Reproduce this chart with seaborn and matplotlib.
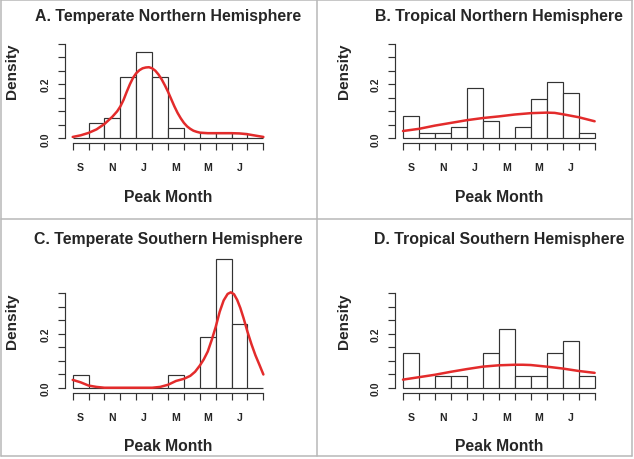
import numpy as np
import seaborn as sns
import matplotlib.pyplot as plt
from matplotlib.lines import Line2D

# histogram densities per month bin (Sep .. Aug)
bin_edges = list(range(13))
month_labels = ['S', 'N', 'J', 'M', 'M', 'J']
dens_A = [0, 0.0566, 0.0755, 0.2264, 0.3208, 0.2264, 0.0377, 0, 0.0189, 0.0189, 0.0189, 0]
dens_B = [0.0833, 0.0208, 0.0208, 0.0417, 0.1875, 0.0625, 0, 0.0417, 0.1458, 0.2083, 0.1667, 0.0208]
dens_C = [0.0476, 0, 0, 0, 0, 0, 0.0476, 0, 0.1905, 0.4762, 0.2381, 0]
dens_D = [0.1304, 0, 0.0435, 0.0435, 0, 0.1304, 0.2174, 0.0435, 0.0435, 0.1304, 0.1739, 0.0435]

# red density curves
curve_A_x = [0, 0.5, 1, 1.5, 2, 2.5, 2.8, 3.0, 3.2, 3.4, 3.6, 3.8, 4.0, 4.2, 4.4, 4.6, 4.8,
             5.0, 5.2, 5.4, 5.6, 5.8, 6.0, 6.2, 6.4, 6.6, 6.8, 7.0, 7.2, 7.4, 7.6, 7.8,
             8.0, 8.5, 9, 9.5, 10, 10.5, 11, 11.5, 12]
curve_A_y = [0.005, 0.011, 0.02, 0.033, 0.053, 0.08, 0.1, 0.118, 0.142, 0.172, 0.2, 0.224,
             0.241, 0.252, 0.259, 0.262, 0.263, 0.259, 0.25, 0.236, 0.218, 0.196, 0.172,
             0.145, 0.118, 0.094, 0.074, 0.057, 0.044, 0.035, 0.028, 0.024, 0.021, 0.019,
             0.019, 0.019, 0.019, 0.018, 0.015, 0.01, 0.005]
curve_B_x = [0, 1, 2, 3, 4, 5, 6, 7, 8, 9, 9.5, 10, 11, 12]
curve_B_y = [0.027, 0.035, 0.047, 0.057, 0.067, 0.075, 0.081, 0.088, 0.093, 0.095, 0.094, 0.089, 0.078, 0.063]
curve_C_x = [0, 0.5, 1, 1.5, 2, 3, 4, 5, 5.5, 6, 6.5, 7, 7.4, 7.7, 8.0, 8.25, 8.5, 8.75,
             9.0, 9.25, 9.5, 9.75, 9.95, 10.15, 10.35, 10.55, 10.75, 11.0, 11.25, 11.5,
             11.75, 12]
curve_C_y = [0.03, 0.021, 0.009, 0.004, 0.001, 0.001, 0.001, 0.001, 0.004, 0.012, 0.026,
             0.034, 0.045, 0.06, 0.083, 0.106, 0.135, 0.178, 0.226, 0.282, 0.324, 0.348,
             0.354, 0.347, 0.326, 0.296, 0.259, 0.208, 0.162, 0.121, 0.086, 0.05]
curve_D_x = [0, 1, 2, 3, 4, 5, 6, 7, 7.5, 8, 9, 10, 11, 12]
curve_D_y = [0.031, 0.04, 0.049, 0.06, 0.07, 0.079, 0.084, 0.086, 0.086, 0.085, 0.079, 0.072, 0.063, 0.056]

titles = ['A. Temperate Northern Hemisphere', 'B. Tropical Northern Hemisphere',
          'C. Temperate Southern Hemisphere', 'D. Tropical Southern Hemisphere']

sns.set_style('ticks')
plt.rcParams['font.family'] = ['Liberation Sans', 'DejaVu Sans']

W, H = 634, 460
fig = plt.figure(figsize=(W / 100, H / 100), dpi=100)

def fx(px):
    return px / W

def fy(py):
    return 1 - py / H

RED = '#e32b2b'
DARK = '#333333'
SY = 270.3

# layout per panel: x of data 0, px per month, y of density 0, title baseline, ylabel x
panels = [
    (dens_A, curve_A_x, curve_A_y, 72.7, 15.89, 139.3, 20.7, 12.5),
    (dens_B, curve_B_x, curve_B_y, 403.0, 15.97, 139.3, 20.7, 344.0),
    (dens_C, curve_C_x, curve_C_y, 72.7, 15.89, 389.0, 244.5, 12.5),
    (dens_D, curve_D_x, curve_D_y, 403.0, 15.97, 389.0, 244.5, 344.0),
]

centers = [e + 0.5 for e in bin_edges[:-1]]

for i, (dens, cx, cy, x0, sx, y0, tb, ylx) in enumerate(panels):
    left = x0 - 0.48 * sx
    bottom = y0 + 0.0185 * SY
    ax = fig.add_axes([fx(left), fy(bottom), 12.96 * sx / W, 0.5185 * SY / H])

    sns.histplot(x=centers, weights=dens, bins=bin_edges, stat='count',
                 color='white', edgecolor=DARK, linewidth=0.85, alpha=1, ax=ax)
    sns.lineplot(x=cx, y=cy, color=RED, linewidth=1.8, ax=ax)

    ax.set_xlim(-0.48, 12.48)
    ax.set_ylim(-0.0185, 0.5)
    ax.set_xlabel('')
    ax.set_ylabel('')
    ax.set_facecolor('none')

    for s in ['top', 'right']:
        ax.spines[s].set_visible(False)
    ax.spines['left'].set_bounds(0, 0.35)
    ax.spines['bottom'].set_bounds(0, 12)
    for s in ['left', 'bottom']:
        ax.spines[s].set_linewidth(0.85)
        ax.spines[s].set_color(DARK)

    ax.set_xticks(bin_edges)
    ax.set_xticklabels([])
    ax.set_xticks(centers[::2], minor=True)
    ax.set_xticklabels(month_labels, minor=True)
    ax.tick_params(axis='x', which='major', length=5, width=0.85, color=DARK)
    ax.tick_params(axis='x', which='minor', length=0, pad=13.5, labelsize=7.6)

    yt = [0, 0.05, 0.1, 0.15, 0.2, 0.25, 0.3, 0.35]
    ax.set_yticks(yt)
    ax.set_yticklabels(['0.0', '', '', '', '0.2', '', '', ''])
    ax.tick_params(axis='y', length=5, width=0.85, color=DARK, pad=5.5,
                   labelsize=7.5, labelrotation=90)
    plt.setp(ax.get_yticklabels(), va='center', fontweight='bold')
    plt.setp(ax.get_xticklabels(minor=True), fontweight='bold')

    cxm = x0 + 6 * sx
    fig.text(fx(cxm), fy(tb), titles[i], ha='center', va='baseline',
             fontsize=11.4, fontweight='bold')
    fig.text(fx(ylx), fy(y0 - 67.8), 'Density', rotation=90, ha='center',
             va='center', fontsize=11.1, fontweight='bold')
    fig.text(fx(cxm), fy(y0 + 62.3), 'Peak Month', ha='center', va='baseline',
             fontsize=11.3, fontweight='bold')

# panel frame lines
GRAY = '#b8b8b8'
for xs, ys in [([1, 632], [1, 1]), ([1, 632], [456.7, 456.7]),
               ([1, 1], [1, 456.7]), ([632, 632], [1, 456.7]),
               ([316.7, 316.7], [1, 456.7]), ([1, 632], [220, 220])]:
    fig.add_artist(Line2D([fx(v) for v in xs], [fy(v) for v in ys],
                          transform=fig.transFigure, color=GRAY, lw=1.1))

fig.savefig('out.png', dpi=100)
